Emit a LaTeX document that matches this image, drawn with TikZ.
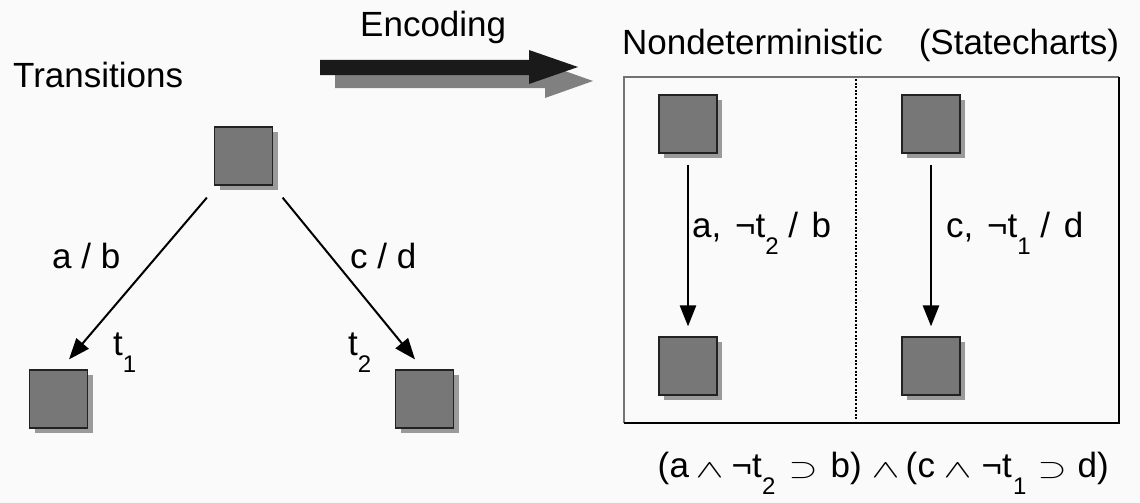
\documentclass[tikz,border=0pt]{standalone}
\usepackage{fontspec}
\setmainfont{Liberation Sans}
\usetikzlibrary{arrows.meta,shadows}
\definecolor{bgc}{HTML}{FAFAFA}
\definecolor{boxfill}{HTML}{777777}
\definecolor{boxshadow}{HTML}{9A9A9A}
\definecolor{boxline}{HTML}{222222}
\definecolor{arrblack}{HTML}{1A1A1A}
\definecolor{arrshadow}{HTML}{808080}
\newcommand\mysub[1]{\raisebox{-17pt}{\fontsize{24}{24}\selectfont #1}}
\newcommand\myand{\resizebox{28pt}{14pt}{$\wedge$}}
\newcommand\mysupset{\resizebox{29pt}{15pt}{$\supset$}}
\newcommand\putat[2]{\makebox[0pt][l]{\hspace{#1}#2}}
\tikzset{
  statebox/.style={draw=boxline, line width=1.2pt, fill=boxfill, minimum size=58pt, inner sep=0pt,
    drop shadow={shadow xshift=5pt, shadow yshift=-5pt, fill=boxshadow, opacity=1}},
  arr/.style={line width=2pt, -{Triangle[length=21pt,width=16pt]}},
  varr/.style={line width=2.6pt, -{Triangle[length=21pt,width=16pt]}},
  lbl/.style={anchor=base west, inner sep=0pt, font=\fontsize{35}{40}\selectfont}
}
\begin{document}
\begin{tikzpicture}[x=1pt,y=-1pt]
\fill[bgc] (0,0) rectangle (1140,503);
\useasboundingbox (0,0) rectangle (1140,503);
% titles
\node[lbl] (ttrans) at (13,88) {Transitions};
\node[lbl] (tenc) at (360,37) {Encoding};
\node[lbl] (tnd) at (622,55) {Nondeterministic\hspace{36pt}(Statecharts)};
% encoding arrow (shadow, then black)
\fill[arrshadow] (335,75) -- (545,75) -- (545,64) -- (593,81) -- (545,98) -- (545,88) -- (335,88) -- cycle;
\fill[arrblack] (320,60) -- (529,60) -- (529,50) -- (578,67) -- (529,84) -- (529,75) -- (320,75) -- cycle;
% left part
\node[statebox] (ts) at (243.5,156) {};
\node[statebox] (bl) at (58.5,399) {};
\node[statebox] (br) at (424.5,399) {};
\draw[arr] ([shift={(-7,12)}]ts.south west) -- ([shift={(10.5,-10)}]bl.north);
\draw[arr] ([shift={(9.5,12)}]ts.south east) -- ([shift={(-9.5,-10)}]br.north);
\node[lbl] (lab) at (52,268) {a / b};
\node[lbl] (lcd) at (350,268) {c / d};
\node[lbl] (lt1) at (113,355) {t\mysub{1}};
\node[lbl] (lt2) at (348,355) {t\mysub{2}};
% right panel
\draw[black!55, line width=1.5pt] (624,423) -- (624,77) -- (1119,77);
\draw[black, line width=1.5pt] (1119,77) -- (1119,423) -- (624,423);
\draw[black, line width=2.6pt, dash pattern=on 2pt off 1.6pt] (856,79) -- (856,420);
\node[statebox] (pa) at (688,124) {};
\node[statebox] (pb) at (688,366) {};
\node[statebox] (pc) at (931,124) {};
\node[statebox] (pd) at (931,366) {};
\draw[varr] ([yshift=-11pt]pa.south) -- ([yshift=10pt]pb.north);
\draw[varr] ([yshift=-11pt]pc.south) -- ([yshift=10pt]pd.north);
\node[lbl] (lpa) at (692,237) {a,\hspace{13.7pt}¬t\mysub{2} /\hspace{13.7pt}b};
\node[lbl] (lpc) at (946,237) {c,\hspace{13.7pt}¬t\mysub{1} /\hspace{13.7pt}d};
% formula
\node[lbl] (form) at (657,477) {\putat{0pt}{(}\putat{12pt}{a}\putat{38pt}{\myand}\putat{74pt}{¬}\putat{94.4pt}{t}\putat{104.5pt}{\mysub{2}}\putat{131pt}{\mysupset}\putat{173pt}{b}\putat{192.5pt}{)}\putat{214pt}{\myand}\putat{248pt}{(}\putat{260pt}{c}\putat{286pt}{\myand}\putat{324pt}{¬}\putat{344.4pt}{t}\putat{355.5pt}{\mysub{1}}\putat{380pt}{\mysupset}\putat{420pt}{d}\putat{439.5pt}{)}\hspace{452pt}};
\end{tikzpicture}
\end{document}
